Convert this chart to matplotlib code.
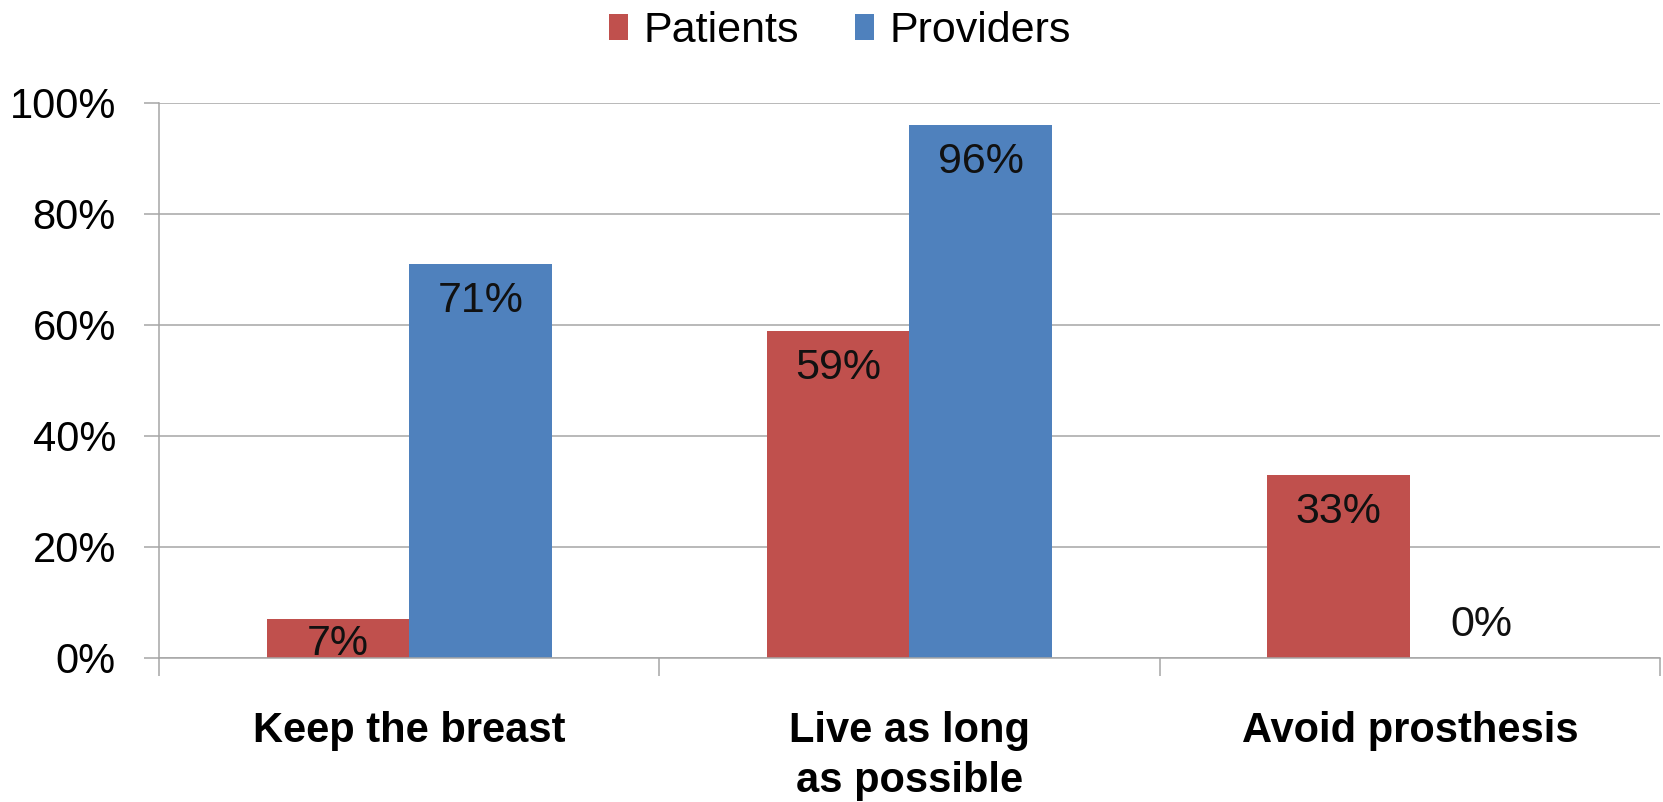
import matplotlib
matplotlib.use('Agg')
import matplotlib.pyplot as plt
import numpy as np

plt.rcParams['font.family'] = ['Liberation Sans', 'DejaVu Sans']

categories = ['Keep the breast', 'Live as long\nas possible', 'Avoid prosthesis']
patients = [7, 59, 33]
providers = [71, 96, 0]
series_names = ['Patients', 'Providers']
yticks = [0, 20, 40, 60, 80, 100]
ytick_labels = ['0%', '20%', '40%', '60%', '80%', '100%']

red = '#C0504D'
blue = '#4F81BD'
gray = '#A6A6A6'

fig = plt.figure(figsize=(16.63, 8.02), dpi=100)
ax = fig.add_axes([0.0956, 0.1796, 0.9026, 0.692])

x = np.arange(len(categories))
w = 0.285
b1 = ax.bar(x - w / 2, patients, w, color=red, label=series_names[0])
b2 = ax.bar(x + w / 2, providers, w, color=blue, label=series_names[1])

# data labels, "inside end" like excel
def label_pos(v):
    if v == 0:
        return 6
    if v < 10:
        return 2.5
    return v - 6.7

for xs, vals in [(x - w / 2, patients), (x + w / 2, providers)]:
    for xi, v in zip(xs, vals):
        ax.text(xi, label_pos(v), f'{v}%', ha='center', va='center',
                fontsize=31, color='#111111')

ax.set_xlim(-0.5, len(categories) - 0.5)
ax.set_ylim(0, 100)
ax.set_yticks(yticks)
ax.set_yticklabels(ytick_labels, fontsize=30)
ax.set_xticks(x)
ax.set_xticklabels(categories, fontsize=30, fontweight='bold', va='top', linespacing=1.32)
ax.set_xticks(np.arange(len(categories) + 1) - 0.5, minor=True)

ax.tick_params(axis='x', which='major', length=0, pad=38)
ax.tick_params(axis='x', which='minor', length=13, width=1.1, color=gray, direction='out')
ax.tick_params(axis='y', length=11, width=1.1, color=gray, pad=20)

ax.grid(True, axis='y', color=gray, linewidth=1.1)
ax.set_axisbelow(True)
for s in ['top', 'right']:
    ax.spines[s].set_visible(False)
for s in ['left', 'bottom']:
    ax.spines[s].set_color(gray)
    ax.spines[s].set_linewidth(1.1)

fig.legend(handles=[b1, b2], labels=series_names, loc='center', bbox_to_anchor=(0.505, 0.961),
           ncol=2, frameon=False, fontsize=31, handlelength=0.45, handleheight=0.55,
           handletextpad=0.35, columnspacing=1.3)

fig.savefig('out.png', dpi=100)
